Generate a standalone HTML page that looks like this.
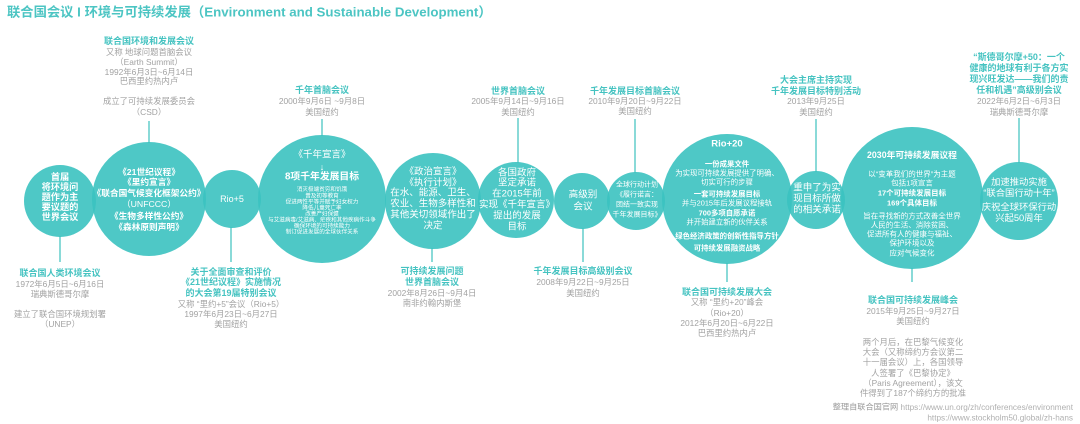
<!DOCTYPE html>
<html>
<head>
<meta charset="utf-8">
<style>
html,body{margin:0;padding:0;background:#fff;}
svg{display:block;}
text{font-family:"Liberation Sans","Noto Sans CJK SC",sans-serif;dominant-baseline:central;}
.t{fill:#45c3c1;font-weight:bold;font-size:9px;text-anchor:middle;}
.g{fill:#a2a2a2;font-size:8.4px;text-anchor:middle;}
.w{fill:#fff;text-anchor:middle;}
.ln{stroke:#4cc6c4;stroke-width:1.3;}
</style>
</head>
<body>
<svg width="1080" height="424" viewBox="0 0 1080 424" xmlns="http://www.w3.org/2000/svg">
<rect width="1080" height="424" fill="#fff"/>
<text x="7" y="12" style="fill:#4cc5c3;font-weight:bold;font-size:13.3px;">联合国会议 I 环境与可持续发展（Environment and Sustainable Development）</text>

<!-- connector lines -->
<line class="ln" x1="60" y1="236" x2="60" y2="262"/>
<line class="ln" x1="149" y1="121" x2="149" y2="143"/>
<line class="ln" x1="231" y1="227" x2="231" y2="262"/>
<line class="ln" x1="322" y1="119" x2="322" y2="136"/>
<line class="ln" x1="432" y1="248" x2="432" y2="262"/>
<line class="ln" x1="518" y1="118" x2="518" y2="163"/>
<line class="ln" x1="583" y1="228" x2="583" y2="262"/>
<line class="ln" x1="635" y1="119" x2="635" y2="173"/>
<line class="ln" x1="727" y1="263" x2="727" y2="282"/>
<line class="ln" x1="816" y1="119" x2="816" y2="172"/>
<line class="ln" x1="912" y1="268" x2="912" y2="282"/>
<line class="ln" x1="1019" y1="118" x2="1019" y2="163"/>

<!-- circles -->
<g fill="rgb(59,194,192)" fill-opacity="0.9">
<circle cx="60" cy="201" r="36"/>
<circle cx="149" cy="199" r="57"/>
<circle cx="232" cy="199" r="29"/>
<circle cx="322" cy="199" r="64"/>
<circle cx="433" cy="201" r="48"/>
<circle cx="516" cy="200" r="38"/>
<circle cx="582" cy="201" r="28"/>
<circle cx="636" cy="201" r="29"/>
<circle cx="727" cy="199" r="65"/>
<circle cx="816" cy="200" r="29"/>
<circle cx="912" cy="198" r="71"/>
<circle cx="1019" cy="201" r="39"/>
</g>

<!-- circle texts -->
<g class="w" style="font-size:9.2px;font-weight:bold;">
<text class="w" x="60" y="177">首届</text>
<text class="w" x="60" y="187">将环境问</text>
<text class="w" x="60" y="197">题作为主</text>
<text class="w" x="60" y="207">要议题的</text>
<text class="w" x="60" y="217">世界会议</text>
</g>
<g style="font-size:8.7px;font-weight:bold;">
<text class="w" x="149" y="172">《21世纪议程》</text>
<text class="w" x="149" y="182">《里约宣言》</text>
<text class="w" x="149" y="193">《联合国气候变化框架公约》</text>
<text class="w" x="149" y="204" style="font-weight:normal;">（UNFCCC）</text>
<text class="w" x="149" y="216">《生物多样性公约》</text>
<text class="w" x="149" y="227">《森林原则声明》</text>
</g>
<text class="w" x="232" y="199" style="font-size:9px;">Rio+5</text>

<text class="w" x="322" y="155" style="font-size:9.5px;">《千年宣言》</text>
<text class="w" x="322" y="167" style="font-size:9px;">↓</text>
<text class="w" x="322" y="177" style="font-size:9.8px;font-weight:bold;">8项千年发展目标</text>
<g style="font-size:5.6px;">
<text class="w" x="322" y="190">消灭极端贫穷和饥饿</text>
<text class="w" x="322" y="196.5">普及初等教育</text>
<text class="w" x="322" y="202.5">促进两性平等并赋予妇女权力</text>
<text class="w" x="322" y="208.5">降低儿童死亡率</text>
<text class="w" x="322" y="214.5">改善产妇保健</text>
<text class="w" x="322" y="220.5">与艾滋病毒/艾滋病、疟疾和其他疾病作斗争</text>
<text class="w" x="322" y="226.5">确保环境的可持续能力</text>
<text class="w" x="322" y="232.5">制订促进发展的全球伙伴关系</text>
</g>

<g style="font-size:9.5px;">
<text class="w" x="433" y="172">《政治宣言》</text>
<text class="w" x="433" y="183">《执行计划》</text>
<text class="w" x="433" y="193">在水、能源、卫生、</text>
<text class="w" x="433" y="204">农业、生物多样性和</text>
<text class="w" x="433" y="215">其他关切领域作出了</text>
<text class="w" x="433" y="226">决定</text>
</g>
<g style="font-size:9.5px;">
<text class="w" x="517" y="173">各国政府</text>
<text class="w" x="517" y="183">坚定承诺</text>
<text class="w" x="517" y="194">在2015年前</text>
<text class="w" x="517" y="205">实现《千年宣言》</text>
<text class="w" x="517" y="216">提出的发展</text>
<text class="w" x="517" y="227">目标</text>
</g>
<g style="font-size:9.6px;">
<text class="w" x="583" y="195">高级别</text>
<text class="w" x="583" y="207">会议</text>
</g>
<g style="font-size:7px;">
<text class="w" x="637" y="185">全球行动计划</text>
<text class="w" x="637" y="195">《履行诺言：</text>
<text class="w" x="637" y="205">团结一致实现</text>
<text class="w" x="637" y="215">千年发展目标》</text>
</g>

<text class="w" x="727" y="144" style="font-size:9.5px;font-weight:bold;">Rio+20</text>
<g style="font-size:7.4px;">
<text class="w" x="727" y="164" style="font-weight:bold;">一份成果文件</text>
<text class="w" x="727" y="173">为实现可持续发展提供了明确、</text>
<text class="w" x="727" y="182">切实可行的步骤</text>
<text class="w" x="727" y="194" style="font-weight:bold;">一套可持续发展目标</text>
<text class="w" x="727" y="203">并与2015年后发展议程接轨</text>
<text class="w" x="727" y="213" style="font-weight:bold;">700多项自愿承诺</text>
<text class="w" x="727" y="222">并开始建立新的伙伴关系</text>
<text class="w" x="727" y="236" style="font-weight:bold;">绿色经济政策的创新性指导方针</text>
<text class="w" x="727" y="248" style="font-weight:bold;">可持续发展融资战略</text>
</g>

<g style="font-size:9.5px;">
<text class="w" x="817" y="188">重申了为实</text>
<text class="w" x="817" y="199">现目标所做</text>
<text class="w" x="817" y="210">的相关承诺</text>
</g>

<text class="w" x="912" y="155" style="font-size:8.8px;font-weight:bold;">2030年可持续发展议程</text>
<g style="font-size:7.5px;">
<text class="w" x="912" y="174">以“变革我们的世界”为主题</text>
<text class="w" x="912" y="183">包括1项宣言</text>
<text class="w" x="912" y="193" style="font-weight:bold;">17个可持续发展目标</text>
<text class="w" x="912" y="203" style="font-weight:bold;">169个具体目标</text>
<text class="w" x="912" y="216">旨在寻找新的方式改善全世界</text>
<text class="w" x="912" y="225">人民的生活、消除贫困、</text>
<text class="w" x="912" y="234">促进所有人的健康与福祉、</text>
<text class="w" x="912" y="243">保护环境以及</text>
<text class="w" x="912" y="253">应对气候变化</text>
</g>

<g style="font-size:9.3px;">
<text class="w" x="1019" y="182">加速推动实施</text>
<text class="w" x="1019" y="193">“联合国行动十年”</text>
<text class="w" x="1019" y="207">庆祝全球环保行动</text>
<text class="w" x="1019" y="218">兴起50周年</text>
</g>

<!-- Top labels -->
<text class="t" x="149" y="41">联合国环境和发展会议</text>
<text class="g" x="149" y="52">又称 地球问题首脑会议</text>
<text class="g" x="149" y="62">（Earth Summit）</text>
<text class="g" x="149" y="72">1992年6月3日~6月14日</text>
<text class="g" x="149" y="81">巴西里约热内卢</text>
<text class="g" x="149" y="101">成立了可持续发展委员会</text>
<text class="g" x="149" y="112">（CSD）</text>

<text class="t" x="322" y="90">千年首脑会议</text>
<text class="g" x="322" y="101">2000年9月6日 ~9月8日</text>
<text class="g" x="322" y="112">美国纽约</text>

<text class="t" x="518" y="91">世界首脑会议</text>
<text class="g" x="518" y="101">2005年9月14日~9月16日</text>
<text class="g" x="518" y="112">美国纽约</text>

<text class="t" x="635" y="91">千年发展目标首脑会议</text>
<text class="g" x="635" y="101">2010年9月20日~9月22日</text>
<text class="g" x="635" y="111">美国纽约</text>

<text class="t" x="816" y="80">大会主席主持实现</text>
<text class="t" x="816" y="91">千年发展目标特别活动</text>
<text class="g" x="816" y="101">2013年9月25日</text>
<text class="g" x="816" y="112">美国纽约</text>

<text class="t" x="1019" y="57">“斯德哥尔摩+50：一个</text>
<text class="t" x="1019" y="68">健康的地球有利于各方实</text>
<text class="t" x="1019" y="79">现兴旺发达——我们的责</text>
<text class="t" x="1019" y="90">任和机遇”高级别会议</text>
<text class="g" x="1019" y="101">2022年6月2日~6月3日</text>
<text class="g" x="1019" y="112">瑞典斯德哥尔摩</text>

<!-- Bottom labels -->
<text class="t" x="60" y="273">联合国人类环境会议</text>
<text class="g" x="60" y="284">1972年6月5日~6月16日</text>
<text class="g" x="60" y="294">瑞典斯德哥尔摩</text>
<text class="g" x="60" y="314">建立了联合国环境规划署</text>
<text class="g" x="60" y="324">（UNEP）</text>

<text class="t" x="231" y="272">关于全面审查和评价</text>
<text class="t" x="231" y="282">《21世纪议程》实施情况</text>
<text class="t" x="231" y="293">的大会第19届特别会议</text>
<text class="g" x="231" y="304">又称 “里约+5”会议（Rio+5）</text>
<text class="g" x="231" y="314">1997年6月23日~6月27日</text>
<text class="g" x="231" y="324">美国纽约</text>

<text class="t" x="432" y="271">可持续发展问题</text>
<text class="t" x="432" y="282">世界首脑会议</text>
<text class="g" x="432" y="293">2002年8月26日~9月4日</text>
<text class="g" x="432" y="303">南非约翰内斯堡</text>

<text class="t" x="583" y="271">千年发展目标高级别会议</text>
<text class="g" x="583" y="282">2008年9月22日~9月25日</text>
<text class="g" x="583" y="293">美国纽约</text>

<text class="t" x="727" y="292">联合国可持续发展大会</text>
<text class="g" x="727" y="302">又称 “里约+20”峰会</text>
<text class="g" x="727" y="313">（Rio+20）</text>
<text class="g" x="727" y="323">2012年6月20日~6月22日</text>
<text class="g" x="727" y="333">巴西里约热内卢</text>

<text class="t" x="913" y="300">联合国可持续发展峰会</text>
<text class="g" x="913" y="311">2015年9月25日~9月27日</text>
<text class="g" x="913" y="321">美国纽约</text>
<text class="g" x="913" y="342">两个月后，在巴黎气候变化</text>
<text class="g" x="913" y="352">大会（又称缔约方会议第二</text>
<text class="g" x="913" y="362">十一届会议）上，各国领导</text>
<text class="g" x="913" y="373">人签署了《巴黎协定》</text>
<text class="g" x="913" y="383">（Paris Agreement），该文</text>
<text class="g" x="913" y="393">件得到了187个缔约方的批准</text>

<text x="1073" y="407" style="font-size:8.2px;text-anchor:end;fill:#9a9a9a;">整理自联合国官网 <tspan style="fill:#b0b0b0;">https://www.un.org/zh/conferences/environment</tspan></text>
<text x="1073" y="418" style="font-size:8.2px;text-anchor:end;fill:#b0b0b0;">https://www.stockholm50.global/zh-hans</text>
</svg>
</body>
</html>
